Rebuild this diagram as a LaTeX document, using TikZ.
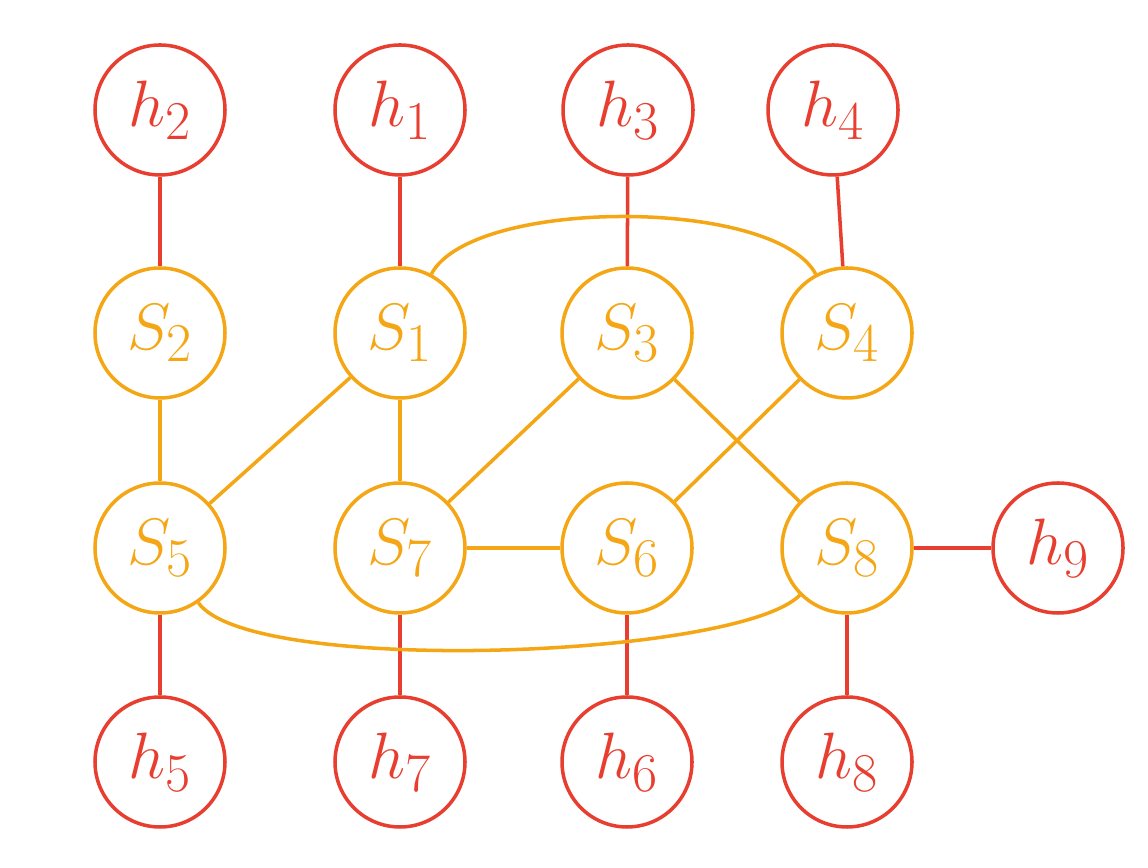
\documentclass[tikz,border=0pt]{standalone}
\usepackage{graphicx}
\usepackage{tikz}
\definecolor{hred}{RGB}{232,62,48}
\definecolor{sorange}{RGB}{244,166,20}
\newcommand{\bigtxt}[1]{\scalebox{1.5}{#1}}
\begin{document}
\begin{tikzpicture}[
    hnode/.style={circle,draw=hred,text=hred,line width=2pt,minimum size=2.6cm,inner sep=0pt,font=\Huge},
    snode/.style={circle,draw=sorange,text=sorange,line width=2pt,minimum size=2.6cm,inner sep=0pt,font=\Huge},
    hedge/.style={draw=hred,line width=2pt},
    sedge/.style={draw=sorange,line width=2pt}
  ]
      \useasboundingbox (0,0) rectangle (22.96,17.36);
      \path
        (3.2,15.16) node[hnode] (h2){\bigtxt{$h_2$}}
        (8.0,15.16) node[hnode] (h1){\bigtxt{$h_1$}}
        (12.56,15.16) node[hnode] (h3){\bigtxt{$h_3$}}
        (16.66,15.16) node[hnode] (h4){\bigtxt{$h_4$}}
        (3.2,10.7) node[snode] (S2){\bigtxt{$S_2$}}
        (8.0,10.7) node[snode] (S1){\bigtxt{$S_1$}}
        (12.54,10.7) node[snode] (S3){\bigtxt{$S_3$}}
        (16.94,10.7) node[snode] (S4){\bigtxt{$S_4$}}
        (3.2,6.4) node[snode] (S5){\bigtxt{$S_5$}}
        (8.0,6.4) node[snode] (S7){\bigtxt{$S_7$}}
        (12.54,6.4) node[snode] (S6){\bigtxt{$S_6$}}
        (16.94,6.4) node[snode] (S8){\bigtxt{$S_8$}}
        (21.16,6.4) node[hnode] (h9){\bigtxt{$h_9$}}
        (3.2,2.12) node[hnode] (h5){\bigtxt{$h_5$}}
        (8.0,2.12) node[hnode] (h7){\bigtxt{$h_7$}}
        (12.54,2.12) node[hnode] (h6){\bigtxt{$h_6$}}
        (16.94,2.12) node[hnode] (h8){\bigtxt{$h_8$}};
      \begin{scope}[hedge]
        \draw (h2) to (S2);
        \draw (h1) to (S1);
        \draw (h3) to (S3);
        \draw (h4) to (S4);
        \draw (S5) to (h5);
        \draw (S7) to (h7);
        \draw (S6) to (h6);
        \draw (S8) to (h8);
        \draw (S8) to (h9);
      \end{scope}
      \begin{scope}[sedge]
        \draw (S2) to (S5);
        \draw (S1) to (S7);
        \draw (S1) to (S5);
        \draw (S3) to (S7);
        \draw (S3) to (S8);
        \draw (S4) to (S6);
        \draw (S7) to (S6);
        \draw (S1) to[out=62,in=118,looseness=0.58] (S4);
        \draw (S5) to[out=-55,in=-135,looseness=0.38] (S8);
      \end{scope}
    \end{tikzpicture}
\end{document}
